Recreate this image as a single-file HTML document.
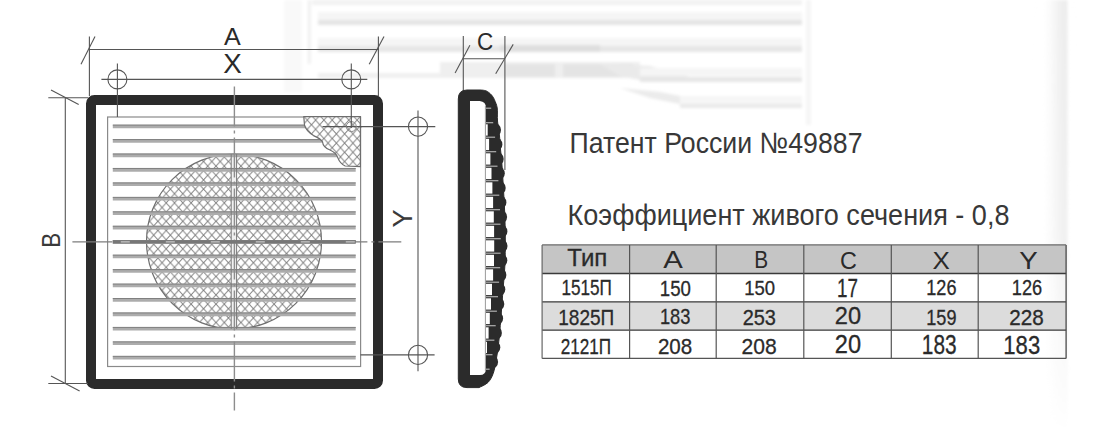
<!DOCTYPE html>
<html><head><meta charset="utf-8">
<style>
html,body{margin:0;padding:0;background:#fff;}
body{width:1093px;height:434px;overflow:hidden;}
svg{display:block;font-family:"Liberation Sans",sans-serif;}
</style></head><body>
<svg width="1093" height="434" viewBox="0 0 1093 434">
<defs>
<pattern id="hx" patternUnits="userSpaceOnUse" width="8.3" height="9.2" x="0.2" y="0.5">
<path d="M0,0 L8.3,9.2 M0,9.2 L8.3,0 M-4.15,-4.6 L4.15,4.6 M4.15,4.6 L12.45,13.8 M-4.15,13.8 L4.15,4.6 M4.15,4.6 L12.45,-4.6" stroke="#7e7e7e" stroke-width="0.95" fill="none"/>
</pattern>
<clipPath id="cc"><circle cx="234" cy="241.5" r="87.5"/></clipPath>
<filter id="bl" x="-10%" y="-10%" width="120%" height="120%"><feGaussianBlur stdDeviation="1.6"/></filter>
<linearGradient id="rb" x1="0" x2="1" y1="0" y2="0">
<stop offset="0" stop-color="#fff" stop-opacity="0"/>
<stop offset="0.6" stop-color="#f3f3f3"/>
<stop offset="0.93" stop-color="#ececec"/>
<stop offset="1" stop-color="#f6f6f6"/>
</linearGradient>
<linearGradient id="rbv" x1="0" x2="0" y1="0" y2="1">
<stop offset="0" stop-color="#fff" stop-opacity="0"/>
<stop offset="0.55" stop-color="#fff" stop-opacity="0.2"/>
<stop offset="1" stop-color="#fff" stop-opacity="1"/>
</linearGradient>
</defs>
<rect width="1093" height="434" fill="#fff"/>

<!-- faint background photo -->
<g id="bg" filter="url(#bl)">
<rect x="284" y="0" width="18" height="92" fill="#f9f9f9"/>
<rect x="308" y="0" width="2.5" height="64" fill="#ededed"/>
<rect x="312" y="0" width="490" height="5" fill="#f2f2f2"/>
<rect x="318" y="12" width="484" height="8" fill="#f5f5f5"/>
<rect x="318" y="20" width="484" height="5" fill="#e4e4e4"/>
<rect x="318" y="38" width="484" height="8" fill="#f5f5f5"/>
<rect x="318" y="46" width="484" height="6" fill="#e6e6e6"/>
<rect x="500" y="45" width="100" height="7" fill="#dedede"/>
<rect x="318" y="73" width="125" height="5" fill="#f0f0f0"/>
<rect x="440" y="62" width="200" height="16" fill="#efefef"/>
<rect x="505" y="64" width="50" height="13" fill="#e4e4e4"/>
<rect x="563" y="64" width="70" height="13" fill="#e4e4e4"/>
<polygon points="600,64 650,66 700,80 640,80 620,76" fill="#eaeaea"/>
<polygon points="620,88 660,92 700,100 730,106 690,106 650,98" fill="#ebebeb"/>
<rect x="640" y="68" width="162" height="8" fill="#f5f5f5"/>
<rect x="640" y="77" width="162" height="5" fill="#e6e6e6"/>
<rect x="680" y="96" width="122" height="8" fill="#f6f6f6"/>
<rect x="680" y="104" width="122" height="4" fill="#e9e9e9"/>
<rect x="806" y="0" width="5" height="125" fill="#f5f5f5"/>
<rect x="1040" y="0" width="28" height="434" fill="url(#rb)"/>
<rect x="1035" y="0" width="40" height="434" fill="url(#rbv)"/>
</g>

<!-- ===== FRONT VIEW ===== -->
<!-- inner rect -->
<rect x="107.6" y="117" width="253" height="249.5" fill="none" stroke="#8a8a8a" stroke-width="1.2"/>
<!-- hatched circle -->
<circle cx="234" cy="241.5" r="87.5" fill="url(#hx)" stroke="#6e6e6e" stroke-width="1.2"/>
<g clip-path="url(#cc)"><rect x="231.2" y="150" width="5.4" height="184" fill="#f0f0f0"/></g>
<!-- slats -->
<g id="slats" stroke="#acacac" stroke-width="3.6"><line x1="112.8" y1="126.50" x2="355.7" y2="126.50"/><line x1="112.8" y1="125.10" x2="355.7" y2="125.10" stroke="#808080" stroke-width="1"/><line x1="112.8" y1="140.95" x2="355.7" y2="140.95"/><line x1="112.8" y1="139.55" x2="355.7" y2="139.55" stroke="#808080" stroke-width="1"/><line x1="112.8" y1="155.40" x2="355.7" y2="155.40"/><line x1="112.8" y1="154.00" x2="355.7" y2="154.00" stroke="#808080" stroke-width="1"/><line x1="112.8" y1="169.85" x2="355.7" y2="169.85"/><line x1="112.8" y1="168.45" x2="355.7" y2="168.45" stroke="#808080" stroke-width="1"/><line x1="112.8" y1="184.30" x2="355.7" y2="184.30"/><line x1="112.8" y1="182.90" x2="355.7" y2="182.90" stroke="#808080" stroke-width="1"/><line x1="112.8" y1="198.75" x2="355.7" y2="198.75"/><line x1="112.8" y1="197.35" x2="355.7" y2="197.35" stroke="#808080" stroke-width="1"/><line x1="112.8" y1="213.20" x2="355.7" y2="213.20"/><line x1="112.8" y1="211.80" x2="355.7" y2="211.80" stroke="#808080" stroke-width="1"/><line x1="112.8" y1="227.65" x2="355.7" y2="227.65"/><line x1="112.8" y1="226.25" x2="355.7" y2="226.25" stroke="#808080" stroke-width="1"/><line x1="112.8" y1="242.10" x2="355.7" y2="242.10"/><line x1="112.8" y1="240.70" x2="355.7" y2="240.70" stroke="#808080" stroke-width="1"/><line x1="112.8" y1="256.55" x2="355.7" y2="256.55"/><line x1="112.8" y1="255.15" x2="355.7" y2="255.15" stroke="#808080" stroke-width="1"/><line x1="112.8" y1="271.00" x2="355.7" y2="271.00"/><line x1="112.8" y1="269.60" x2="355.7" y2="269.60" stroke="#808080" stroke-width="1"/><line x1="112.8" y1="285.45" x2="355.7" y2="285.45"/><line x1="112.8" y1="284.05" x2="355.7" y2="284.05" stroke="#808080" stroke-width="1"/><line x1="112.8" y1="299.90" x2="355.7" y2="299.90"/><line x1="112.8" y1="298.50" x2="355.7" y2="298.50" stroke="#808080" stroke-width="1"/><line x1="112.8" y1="314.35" x2="355.7" y2="314.35"/><line x1="112.8" y1="312.95" x2="355.7" y2="312.95" stroke="#808080" stroke-width="1"/><line x1="112.8" y1="328.80" x2="355.7" y2="328.80"/><line x1="112.8" y1="327.40" x2="355.7" y2="327.40" stroke="#808080" stroke-width="1"/><line x1="112.8" y1="343.25" x2="355.7" y2="343.25"/><line x1="112.8" y1="341.85" x2="355.7" y2="341.85" stroke="#808080" stroke-width="1"/><line x1="112.8" y1="357.70" x2="355.7" y2="357.70"/><line x1="112.8" y1="356.30" x2="355.7" y2="356.30" stroke="#808080" stroke-width="1"/></g>
<g clip-path="url(#cc)"><line x1="231.2" y1="150" x2="231.2" y2="334" stroke="#7a7a7a" stroke-width="1"/><line x1="236.6" y1="150" x2="236.6" y2="334" stroke="#7a7a7a" stroke-width="1"/></g>
<!-- corner hatch -->
<path d="M303.8,116.6 L304.5,125.2 Q306,131 313.5,135.6 Q320.5,138.5 322.5,141.8 Q323,147.5 330,150 Q336.5,153 337.7,157.6 Q340,163.5 345.2,166 L360.4,166.6 L360.4,116.6 Z" fill="#fff"/><path d="M303.8,116.6 L304.5,125.2 Q306,131 313.5,135.6 Q320.5,138.5 322.5,141.8 Q323,147.5 330,150 Q336.5,153 337.7,157.6 Q340,163.5 345.2,166 L360.4,166.6 L360.4,116.6 Z" fill="url(#hx)" stroke="#6e6e6e" stroke-width="1.2"/>
<line x1="322.5" y1="126.6" x2="362" y2="126.6" stroke="#555" stroke-width="1.1"/>
<circle cx="351.3" cy="126.6" r="5" fill="none" stroke="#888" stroke-width="1"/>

<!-- frame -->
<rect x="91" y="100" width="287" height="284" rx="3.5" fill="none" stroke="#2b2b2b" stroke-width="10"/>

<!-- center lines -->
<line x1="234.4" y1="86.5" x2="234.4" y2="410.5" stroke="#8d8d8d" stroke-width="1.4" stroke-dasharray="40,4,3,4"/>
<line x1="72.4" y1="241.9" x2="401.3" y2="241.9" stroke="#7d7d7d" stroke-width="1.3" stroke-dasharray="40,4,3,4"/>
<line x1="112.8" y1="241.9" x2="355.7" y2="241.9" stroke="#777" stroke-width="3.4"/>
<line x1="112.8" y1="241.9" x2="355.7" y2="241.9" stroke="#c8c8c8" stroke-width="1.2" stroke-dasharray="0,8,9,28"/>

<!-- dimension lines -->
<g stroke="#555" stroke-width="1.1" fill="none">
<!-- A -->
<line x1="89.4" y1="36.6" x2="89.4" y2="96"/>
<line x1="378.4" y1="36.6" x2="378.4" y2="96"/>
<line x1="89.4" y1="49.5" x2="378.4" y2="49.5"/>
<line x1="81" y1="64.3" x2="95" y2="36.6"/>
<line x1="369.2" y1="64.3" x2="384" y2="36.6"/>
<!-- X -->
<line x1="101.4" y1="79.4" x2="367.3" y2="79.4"/>
<line x1="117.4" y1="63.4" x2="117.4" y2="117"/>
<line x1="351.3" y1="63.4" x2="351.3" y2="128"/>
<!-- B -->
<line x1="48.3" y1="97.8" x2="88" y2="97.8"/>
<line x1="48.3" y1="383.5" x2="88" y2="383.5"/>
<line x1="65.3" y1="97.8" x2="65.3" y2="383.5"/>
<line x1="51" y1="90.1" x2="78.7" y2="104.4"/>
<line x1="51" y1="376" x2="79.6" y2="390.9"/>
<!-- Y -->
<line x1="418" y1="110.4" x2="418" y2="371.2"/>
<line x1="360.5" y1="126.6" x2="435.3" y2="126.6"/>
<line x1="360.5" y1="354.9" x2="434.6" y2="354.9"/>
<!-- holes -->
<circle cx="117.4" cy="79.4" r="9.5"/>
<circle cx="351.3" cy="79.4" r="9.5"/>
<circle cx="418" cy="126.6" r="9.6"/>
<circle cx="418" cy="354.9" r="9.6"/>
<!-- C -->
<line x1="463.3" y1="36" x2="463.3" y2="92"/>
<line x1="504.9" y1="36" x2="504.9" y2="170"/>
<line x1="463.3" y1="58.7" x2="504.9" y2="58.7"/>
<line x1="455.1" y1="72.9" x2="469.9" y2="45.3"/>
<line x1="495.7" y1="73.8" x2="513.2" y2="44.4"/>
</g>

<!-- labels -->
<g fill="#3a3a3a" font-size="25">
<text transform="translate(59.5,240.3) rotate(-90) scale(0.88,1)" text-anchor="middle" font-size="25.5">B</text>
<text transform="translate(412.3,218.5) rotate(-90)" text-anchor="middle" font-size="27.2">Y</text>
</g>

<!-- ===== SIDE VIEW ===== -->
<path d="M458.3,99 Q458.3,90 467,90 L480,90 C485.2,90.2 486.3,90.9 487.3,91.5 C488.3,92.1 489.1,92.7 490.0,93.5 C490.9,94.3 491.8,95.3 492.5,96.3 C493.2,97.3 493.6,97.8 494.4,99.7 C495.2,101.7 496.7,104.5 497.2,108.0 C497.7,111.5 497.1,116.3 497.5,121.0 C497.9,125.7 499.1,132.0 499.5,136.0 C499.9,140.0 499.7,140.3 500.1,145.0 C500.5,149.7 501.3,156.5 501.9,164.0 C502.5,171.5 503.0,181.5 503.5,190.0 C504.0,198.5 504.5,206.7 504.8,215.0 C505.1,223.3 505.3,231.7 505.3,240.0 C505.3,248.3 505.3,256.7 504.9,265.0 C504.5,273.3 503.6,282.5 503.0,290.0 C502.4,297.5 502.0,303.3 501.5,310.0 C501.0,316.7 500.4,324.2 499.9,330.0 C499.4,335.8 499.0,340.0 498.4,345.0 C497.8,350.0 497.1,355.3 496.2,360.0 C495.3,364.7 494.6,369.7 493.2,373.4 C491.8,377.1 490.4,380.0 488.0,382.4 C485.6,384.8 480.5,386.7 479.0,387.6 L467,387.6 Q458.3,387.6 458.3,379 Z" fill="#2b2b2b" stroke="#2b2b2b" stroke-width="1" stroke-linejoin="round"/><g fill="#2b2b2b"><circle cx="493.7" cy="129.9" r="7.3"/><circle cx="495.1" cy="144.4" r="7.3"/><circle cx="496.4" cy="158.9" r="7.3"/><circle cx="497.5" cy="173.4" r="7.3"/><circle cx="498.4" cy="187.9" r="7.3"/><circle cx="499.1" cy="202.4" r="7.3"/><circle cx="499.8" cy="216.9" r="7.3"/><circle cx="500.1" cy="231.4" r="7.3"/><circle cx="500.2" cy="245.9" r="7.3"/><circle cx="500.0" cy="260.4" r="7.3"/><circle cx="499.1" cy="274.9" r="7.3"/><circle cx="498.0" cy="289.4" r="7.3"/><circle cx="497.0" cy="303.9" r="7.3"/><circle cx="495.8" cy="318.4" r="7.3"/><circle cx="494.6" cy="332.9" r="7.3"/><circle cx="493.0" cy="347.4" r="7.3"/><circle cx="490.8" cy="361.9" r="7.3"/></g><path d="M470,101 L479.7,101 Q486,101.5 486,108 L486,369 Q485.5,375 480,375 L470,375 Z" fill="#fff"/><g fill="#fff"><rect x="486" y="124.3" width="1.7" height="11.3"/><rect x="486" y="138.8" width="3.1" height="11.3"/><rect x="486" y="153.3" width="4.4" height="11.3"/><rect x="486" y="167.8" width="5.5" height="11.3"/><rect x="486" y="182.3" width="6.4" height="11.3"/><rect x="486" y="196.8" width="7.1" height="11.3"/><rect x="486" y="211.3" width="7.8" height="11.3"/><rect x="486" y="225.8" width="8.1" height="11.3"/><rect x="486" y="240.3" width="8.2" height="11.3"/><rect x="486" y="254.8" width="8.0" height="11.3"/><rect x="486" y="269.3" width="7.1" height="11.3"/><rect x="486" y="283.8" width="6.0" height="11.3"/><rect x="486" y="298.3" width="5.0" height="11.3"/><rect x="486" y="312.8" width="3.8" height="11.3"/><rect x="486" y="327.3" width="2.6" height="11.3"/><rect x="486" y="341.8" width="1.0" height="11.3"/></g><g stroke="#b0b0b0" stroke-width="1.2"><line x1="485.5" y1="108.2" x2="491.2" y2="108.2"/><line x1="485.5" y1="122.7" x2="493.2" y2="122.7"/><line x1="485.5" y1="137.2" x2="495.1" y2="137.2"/><line x1="485.5" y1="151.7" x2="496.2" y2="151.7"/><line x1="485.5" y1="166.2" x2="497.5" y2="166.2"/><line x1="485.5" y1="180.7" x2="498.4" y2="180.7"/><line x1="485.5" y1="195.2" x2="499.3" y2="195.2"/><line x1="485.5" y1="209.7" x2="500.0" y2="209.7"/><line x1="485.5" y1="224.2" x2="500.5" y2="224.2"/><line x1="485.5" y1="238.7" x2="500.8" y2="238.7"/><line x1="485.5" y1="253.2" x2="500.6" y2="253.2"/><line x1="485.5" y1="267.7" x2="500.2" y2="267.7"/><line x1="485.5" y1="282.2" x2="499.1" y2="282.2"/><line x1="485.5" y1="296.7" x2="498.0" y2="296.7"/><line x1="485.5" y1="311.2" x2="496.9" y2="311.2"/><line x1="485.5" y1="325.7" x2="495.7" y2="325.7"/><line x1="485.5" y1="340.2" x2="494.4" y2="340.2"/><line x1="485.5" y1="354.7" x2="492.5" y2="354.7"/><line x1="485.5" y1="369.2" x2="489.6" y2="369.2"/></g><line x1="485.4" y1="106" x2="485.4" y2="371" stroke="#9a9a9a" stroke-width="1"/>

<!-- ===== TABLE ===== -->
<rect x="542.1" y="244.9" width="524" height="28.6" fill="#c5c5c5"/>
<rect x="542.1" y="301.8" width="524" height="28.4" fill="#dcdcdc"/>
<g stroke="#3a3a3a" stroke-width="1.3" fill="none">
<line x1="542.1" y1="273.5" x2="1066.1" y2="273.5"/>
<line x1="542.1" y1="301.8" x2="1066.1" y2="301.8"/>
<line x1="542.1" y1="330.2" x2="1066.1" y2="330.2"/>
<line x1="1066.1" y1="244.9" x2="1066.1" y2="358.4" stroke="#4a4a4a"/>
<line x1="542.1" y1="358.4" x2="1066.1" y2="358.4" stroke="#555"/>
</g>
<g stroke="#555" stroke-width="1.2" fill="none">
<line x1="542.1" y1="244.9" x2="1066.1" y2="244.9" stroke="#6a6a6a"/>
<line x1="542.1" y1="244.9" x2="542.1" y2="358.4" stroke="#666"/>
<line x1="629.6" y1="244.9" x2="629.6" y2="358.4"/>
<line x1="716.2" y1="244.9" x2="716.2" y2="358.4"/>
<line x1="803.8" y1="244.9" x2="803.8" y2="358.4"/>
<line x1="891.3" y1="244.9" x2="891.3" y2="358.4"/>
<line x1="978.2" y1="244.9" x2="978.2" y2="358.4"/>
</g>
<text x="567.27" y="265.84" font-size="24.39" textLength="40.11" lengthAdjust="spacingAndGlyphs" fill="#2a2a2a" stroke="#2a2a2a" stroke-width="0.3">Тип</text>
<text x="663.20" y="267.98" font-size="23.25" textLength="19.56" lengthAdjust="spacingAndGlyphs" fill="#2a2a2a">A</text>
<text x="754.28" y="267.92" font-size="23.11" textLength="13.92" lengthAdjust="spacingAndGlyphs" fill="#2a2a2a">B</text>
<text x="840.08" y="268.72" font-size="24.79" textLength="16.88" lengthAdjust="spacingAndGlyphs" fill="#2a2a2a">C</text>
<text x="932.60" y="268.72" font-size="24.39" textLength="17.31" lengthAdjust="spacingAndGlyphs" fill="#2a2a2a">X</text>
<text x="1019.32" y="268.72" font-size="24.84" textLength="18.46" lengthAdjust="spacingAndGlyphs" fill="#2a2a2a">Y</text>
<text x="561.45" y="295.46" font-size="21.81" textLength="50.43" lengthAdjust="spacingAndGlyphs" fill="#2a2a2a" stroke="#2a2a2a" stroke-width="0.3">1515П</text>
<text x="659.80" y="296.18" font-size="21.32" textLength="31.11" lengthAdjust="spacingAndGlyphs" fill="#2a2a2a" stroke="#2a2a2a" stroke-width="0.3">150</text>
<text x="744.24" y="295.46" font-size="20.81" textLength="30.93" lengthAdjust="spacingAndGlyphs" fill="#2a2a2a" stroke="#2a2a2a" stroke-width="0.3">150</text>
<text x="837.09" y="296.58" font-size="26.47" textLength="20.96" lengthAdjust="spacingAndGlyphs" fill="#2a2a2a" stroke="#2a2a2a" stroke-width="0.3">17</text>
<text x="926.30" y="295.46" font-size="21.38" textLength="30.17" lengthAdjust="spacingAndGlyphs" fill="#2a2a2a" stroke="#2a2a2a" stroke-width="0.3">126</text>
<text x="1011.84" y="295.46" font-size="21.38" textLength="30.33" lengthAdjust="spacingAndGlyphs" fill="#2a2a2a" stroke="#2a2a2a" stroke-width="0.3">126</text>
<text x="558.28" y="324.78" font-size="21.73" textLength="55.99" lengthAdjust="spacingAndGlyphs" fill="#2a2a2a" stroke="#2a2a2a" stroke-width="0.3">1825П</text>
<text x="659.92" y="324.46" font-size="21.18" textLength="30.51" lengthAdjust="spacingAndGlyphs" fill="#2a2a2a" stroke="#2a2a2a" stroke-width="0.3">183</text>
<text x="742.66" y="324.80" font-size="21.43" textLength="33.32" lengthAdjust="spacingAndGlyphs" fill="#2a2a2a" stroke="#2a2a2a" stroke-width="0.3">253</text>
<text x="834.80" y="323.66" font-size="24.40" textLength="26.26" lengthAdjust="spacingAndGlyphs" fill="#2a2a2a" stroke="#2a2a2a" stroke-width="0.3">20</text>
<text x="926.30" y="324.78" font-size="21.73" textLength="30.17" lengthAdjust="spacingAndGlyphs" fill="#2a2a2a" stroke="#2a2a2a" stroke-width="0.3">159</text>
<text x="1009.36" y="324.78" font-size="21.73" textLength="34.49" lengthAdjust="spacingAndGlyphs" fill="#2a2a2a" stroke="#2a2a2a" stroke-width="0.3">228</text>
<text x="560.69" y="354.04" font-size="21.52" textLength="50.40" lengthAdjust="spacingAndGlyphs" fill="#2a2a2a" stroke="#2a2a2a" stroke-width="0.3">2121П</text>
<text x="657.93" y="353.88" font-size="22.23" textLength="34.33" lengthAdjust="spacingAndGlyphs" fill="#2a2a2a" stroke="#2a2a2a" stroke-width="0.3">208</text>
<text x="741.49" y="354.04" font-size="22.60" textLength="35.17" lengthAdjust="spacingAndGlyphs" fill="#2a2a2a" stroke="#2a2a2a" stroke-width="0.3">208</text>
<text x="834.80" y="352.96" font-size="25.05" textLength="26.26" lengthAdjust="spacingAndGlyphs" fill="#2a2a2a" stroke="#2a2a2a" stroke-width="0.3">20</text>
<text x="921.82" y="353.88" font-size="27.02" textLength="34.84" lengthAdjust="spacingAndGlyphs" fill="#2a2a2a" stroke="#2a2a2a" stroke-width="0.3">183</text>
<text x="1003.32" y="354.04" font-size="26.41" textLength="36.88" lengthAdjust="spacingAndGlyphs" fill="#2a2a2a" stroke="#2a2a2a" stroke-width="0.3">183</text>
<text x="569.57" y="152.58" font-size="29.53" textLength="292.93" lengthAdjust="spacingAndGlyphs" fill="#383838">Патент России №49887</text>
<text x="567.58" y="225.10" font-size="29.33" textLength="441.88" lengthAdjust="spacingAndGlyphs" fill="#383838">Коэффициент живого сечения - 0,8</text>
<text x="224.09" y="44.90" font-size="24.28" textLength="16.72" lengthAdjust="spacingAndGlyphs" fill="#2a2a2a">A</text>
<text x="223.19" y="72.50" font-size="27.24" textLength="18.51" lengthAdjust="spacingAndGlyphs" fill="#2a2a2a">X</text>
<text x="476.98" y="49.90" font-size="24.58" textLength="16.24" lengthAdjust="spacingAndGlyphs" fill="#2a2a2a">C</text>
</svg>
</body></html>
